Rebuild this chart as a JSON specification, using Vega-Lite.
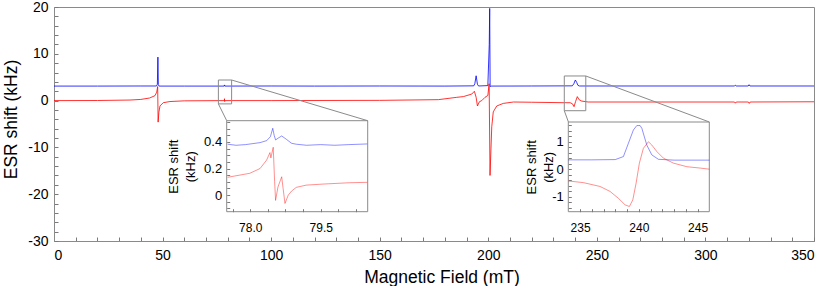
{
  "$schema": "https://vega.github.io/schema/vega-lite/v6.json",
  "width": 760,
  "height": 234,
  "autosize": {"type": "none"},
  "padding": {"left": 54, "top": 7, "right": 16, "bottom": 45},
  "config": {
    "font": "Liberation Sans",
    "view": {"stroke": "#8a8a8a", "strokeWidth": 1},
    "locale": {"number": {"decimal": ".", "thousands": ",", "grouping": [3], "currency": ["$", ""], "minus": "-"}},
    "axis": {"domainColor": "#8a8a8a", "tickColor": "#7a7a7a", "labelColor": "#000000", "titleColor": "#000000", "grid": false, "labelFont": "Liberation Sans", "titleFont": "Liberation Sans", "titleFontWeight": "normal", "labelOverlap": false, "ticks": true, "tickCount": 200}
  },
  "datasets": {
    "main": [
      {"mT": 0, "kHz": 3.1, "trace": "A"}, {"mT": 20, "kHz": 3.1, "trace": "A"}, {"mT": 40, "kHz": 3.12, "trace": "A"},
      {"mT": 47.2, "kHz": 3.12, "trace": "A"}, {"mT": 47.6, "kHz": 3.5, "trace": "A"}, {"mT": 47.85, "kHz": 9.3, "trace": "A"},
      {"mT": 48.05, "kHz": 3.4, "trace": "A"}, {"mT": 48.4, "kHz": 3.1, "trace": "A"}, {"mT": 60, "kHz": 3.1, "trace": "A"},
      {"mT": 78.4, "kHz": 3.1, "trace": "A"}, {"mT": 78.5, "kHz": 3.35, "trace": "A"}, {"mT": 78.7, "kHz": 3.1, "trace": "A"},
      {"mT": 100, "kHz": 3.12, "trace": "A"}, {"mT": 120, "kHz": 3.1, "trace": "A"}, {"mT": 150, "kHz": 3.12, "trace": "A"},
      {"mT": 180, "kHz": 3.1, "trace": "A"}, {"mT": 193.3, "kHz": 3.15, "trace": "A"}, {"mT": 193.8, "kHz": 3.6, "trace": "A"},
      {"mT": 194.4, "kHz": 5.3, "trace": "A"}, {"mT": 195.0, "kHz": 3.5, "trace": "A"}, {"mT": 195.5, "kHz": 3.12, "trace": "A"},
      {"mT": 199.8, "kHz": 3.2, "trace": "A"}, {"mT": 200.45, "kHz": 12, "trace": "A"}, {"mT": 200.65, "kHz": 19.7, "trace": "A"},
      {"mT": 200.85, "kHz": 3.0, "trace": "A"}, {"mT": 201.3, "kHz": 3.1, "trace": "A"}, {"mT": 220, "kHz": 3.12, "trace": "A"},
      {"mT": 238.7, "kHz": 3.15, "trace": "A"}, {"mT": 239.4, "kHz": 3.6, "trace": "A"}, {"mT": 240.1, "kHz": 4.4, "trace": "A"},
      {"mT": 240.7, "kHz": 3.9, "trace": "A"}, {"mT": 241.3, "kHz": 3.25, "trace": "A"}, {"mT": 242, "kHz": 3.12, "trace": "A"},
      {"mT": 280, "kHz": 3.12, "trace": "A"}, {"mT": 313.3, "kHz": 3.12, "trace": "A"}, {"mT": 313.7, "kHz": 3.3, "trace": "A"},
      {"mT": 314.1, "kHz": 3.12, "trace": "A"}, {"mT": 319.7, "kHz": 3.12, "trace": "A"}, {"mT": 320.1, "kHz": 3.4, "trace": "A"},
      {"mT": 320.5, "kHz": 3.12, "trace": "A"}, {"mT": 350, "kHz": 3.12, "trace": "A"},
      {"mT": 0, "kHz": 0, "trace": "B"}, {"mT": 20, "kHz": 0.02, "trace": "B"}, {"mT": 35, "kHz": 0.12, "trace": "B"},
      {"mT": 40, "kHz": 0.25, "trace": "B"}, {"mT": 44, "kHz": 0.55, "trace": "B"}, {"mT": 46.5, "kHz": 1.05, "trace": "B"},
      {"mT": 47.3, "kHz": 1.8, "trace": "B"}, {"mT": 47.75, "kHz": 3.0, "trace": "B"}, {"mT": 47.95, "kHz": -4.6, "trace": "B"},
      {"mT": 48.3, "kHz": -2.5, "trace": "B"}, {"mT": 48.8, "kHz": -1.15, "trace": "B"}, {"mT": 50.3, "kHz": -0.45, "trace": "B"},
      {"mT": 53.4, "kHz": -0.2, "trace": "B"}, {"mT": 60, "kHz": -0.05, "trace": "B"}, {"mT": 78.45, "kHz": 0, "trace": "B"},
      {"mT": 78.5, "kHz": 0.4, "trace": "B"}, {"mT": 78.6, "kHz": -0.2, "trace": "B"}, {"mT": 78.7, "kHz": 0, "trace": "B"},
      {"mT": 100, "kHz": 0, "trace": "B"}, {"mT": 150, "kHz": 0.05, "trace": "B"}, {"mT": 177, "kHz": 0.2, "trace": "B"},
      {"mT": 185.5, "kHz": 0.7, "trace": "B"}, {"mT": 188.5, "kHz": 0.85, "trace": "B"}, {"mT": 192.4, "kHz": 1.4, "trace": "B"},
      {"mT": 193.6, "kHz": 2.0, "trace": "B"}, {"mT": 194.4, "kHz": 0.7, "trace": "B"}, {"mT": 195.0, "kHz": -1.15, "trace": "B"},
      {"mT": 195.9, "kHz": -0.25, "trace": "B"}, {"mT": 197, "kHz": 0.0, "trace": "B"}, {"mT": 198.5, "kHz": 0.7, "trace": "B"},
      {"mT": 199.8, "kHz": 1.1, "trace": "B"}, {"mT": 200.4, "kHz": 3.6, "trace": "B"}, {"mT": 200.8, "kHz": -16.0, "trace": "B"},
      {"mT": 201.6, "kHz": -5.6, "trace": "B"}, {"mT": 202.3, "kHz": -2.4, "trace": "B"}, {"mT": 203.9, "kHz": -1.15, "trace": "B"},
      {"mT": 206.9, "kHz": -0.6, "trace": "B"}, {"mT": 211.6, "kHz": -0.3, "trace": "B"}, {"mT": 220, "kHz": -0.35, "trace": "B"},
      {"mT": 235, "kHz": -0.45, "trace": "B"}, {"mT": 237.7, "kHz": -0.45, "trace": "B"}, {"mT": 238.8, "kHz": -0.7, "trace": "B"},
      {"mT": 239.5, "kHz": -1.3, "trace": "B"}, {"mT": 240.2, "kHz": -0.2, "trace": "B"}, {"mT": 241.0, "kHz": 0.85, "trace": "B"},
      {"mT": 241.8, "kHz": 0.2, "trace": "B"}, {"mT": 243, "kHz": -0.1, "trace": "B"}, {"mT": 246, "kHz": -0.3, "trace": "B"},
      {"mT": 280, "kHz": -0.3, "trace": "B"}, {"mT": 313.4, "kHz": -0.3, "trace": "B"}, {"mT": 313.8, "kHz": -0.55, "trace": "B"},
      {"mT": 314.2, "kHz": -0.3, "trace": "B"}, {"mT": 319.8, "kHz": -0.3, "trace": "B"}, {"mT": 320.2, "kHz": -0.6, "trace": "B"},
      {"mT": 320.6, "kHz": -0.3, "trace": "B"}, {"mT": 350, "kHz": -0.25, "trace": "B"}
    ],
    "in1": [
      {"mT": 77.52, "kHz": 0.383, "trace": "A"}, {"mT": 77.7, "kHz": 0.375, "trace": "A"}, {"mT": 77.9, "kHz": 0.38, "trace": "A"},
      {"mT": 78.21, "kHz": 0.395, "trace": "A"}, {"mT": 78.35, "kHz": 0.41, "trace": "A"}, {"mT": 78.43, "kHz": 0.44, "trace": "A"},
      {"mT": 78.48, "kHz": 0.503, "trace": "A"}, {"mT": 78.51, "kHz": 0.45, "trace": "A"}, {"mT": 78.54, "kHz": 0.415, "trace": "A"},
      {"mT": 78.6, "kHz": 0.43, "trace": "A"}, {"mT": 78.67, "kHz": 0.445, "trace": "A"}, {"mT": 78.77, "kHz": 0.42, "trace": "A"},
      {"mT": 78.88, "kHz": 0.39, "trace": "A"}, {"mT": 78.98, "kHz": 0.383, "trace": "A"}, {"mT": 79.2, "kHz": 0.375, "trace": "A"},
      {"mT": 79.5, "kHz": 0.38, "trace": "A"}, {"mT": 79.8, "kHz": 0.375, "trace": "A"}, {"mT": 80.1, "kHz": 0.38, "trace": "A"},
      {"mT": 80.49, "kHz": 0.385, "trace": "A"},
      {"mT": 77.52, "kHz": 0.134, "trace": "B"}, {"mT": 77.99, "kHz": 0.164, "trace": "B"}, {"mT": 78.21, "kHz": 0.2, "trace": "B"},
      {"mT": 78.35, "kHz": 0.264, "trace": "B"}, {"mT": 78.42, "kHz": 0.32, "trace": "B"}, {"mT": 78.44, "kHz": 0.28, "trace": "B"},
      {"mT": 78.49, "kHz": 0.36, "trace": "B"}, {"mT": 78.52, "kHz": 0.1, "trace": "B"}, {"mT": 78.54, "kHz": -0.04, "trace": "B"},
      {"mT": 78.59, "kHz": 0.06, "trace": "B"}, {"mT": 78.67, "kHz": 0.138, "trace": "B"}, {"mT": 78.7, "kHz": 0.05, "trace": "B"},
      {"mT": 78.74, "kHz": -0.063, "trace": "B"}, {"mT": 78.81, "kHz": 0.0, "trace": "B"}, {"mT": 78.88, "kHz": 0.03, "trace": "B"},
      {"mT": 78.98, "kHz": 0.058, "trace": "B"}, {"mT": 79.19, "kHz": 0.075, "trace": "B"}, {"mT": 79.55, "kHz": 0.083, "trace": "B"},
      {"mT": 80.11, "kHz": 0.093, "trace": "B"}, {"mT": 80.49, "kHz": 0.096, "trace": "B"}
    ],
    "in2": [
      {"mT": 234.0, "kHz": 0.34, "trace": "A"}, {"mT": 236, "kHz": 0.34, "trace": "A"}, {"mT": 238.0, "kHz": 0.35, "trace": "A"},
      {"mT": 238.69, "kHz": 0.46, "trace": "A"}, {"mT": 239.12, "kHz": 0.95, "trace": "A"}, {"mT": 239.54, "kHz": 1.43, "trace": "A"},
      {"mT": 239.83, "kHz": 1.59, "trace": "A"}, {"mT": 240.11, "kHz": 1.59, "trace": "A"}, {"mT": 240.26, "kHz": 1.49, "trace": "A"},
      {"mT": 240.68, "kHz": 0.88, "trace": "A"}, {"mT": 241.11, "kHz": 0.52, "trace": "A"}, {"mT": 241.67, "kHz": 0.36, "trace": "A"},
      {"mT": 243, "kHz": 0.33, "trace": "A"}, {"mT": 246.0, "kHz": 0.33, "trace": "A"},
      {"mT": 234.0, "kHz": -0.43, "trace": "B"}, {"mT": 235.28, "kHz": -0.49, "trace": "B"}, {"mT": 236.7, "kHz": -0.63, "trace": "B"},
      {"mT": 237.55, "kHz": -0.81, "trace": "B"}, {"mT": 238.26, "kHz": -1.06, "trace": "B"}, {"mT": 238.83, "kHz": -1.3, "trace": "B"},
      {"mT": 239.2, "kHz": -1.36, "trace": "B"}, {"mT": 239.49, "kHz": -1.12, "trace": "B"}, {"mT": 239.77, "kHz": -0.51, "trace": "B"},
      {"mT": 240.05, "kHz": 0.22, "trace": "B"}, {"mT": 240.39, "kHz": 0.76, "trace": "B"}, {"mT": 240.82, "kHz": 1.0, "trace": "B"},
      {"mT": 241.11, "kHz": 0.88, "trace": "B"}, {"mT": 241.54, "kHz": 0.64, "trace": "B"}, {"mT": 242.1, "kHz": 0.4, "trace": "B"},
      {"mT": 242.95, "kHz": 0.22, "trace": "B"}, {"mT": 244.09, "kHz": 0.09, "trace": "B"}, {"mT": 245.23, "kHz": 0.04, "trace": "B"},
      {"mT": 246.0, "kHz": 0.0, "trace": "B"}
    ],
    "boxes": [
      {"x1": 75.7, "x2": 81.8, "y1": -0.7, "y2": 4.4},
      {"x1": 235.0, "x2": 244.9, "y1": -2.16, "y2": 5.26}
    ],
    "links": [
      {"x1": 81.8, "y1": 4.4, "x2": 144.5, "y2": -4.3},
      {"x1": 75.7, "y1": -0.7, "x2": 79.55, "y2": -4.3},
      {"x1": 244.9, "y1": 5.26, "x2": 301.8, "y2": -4.57},
      {"x1": 235.0, "y1": -2.16, "x2": 236.9, "y2": -4.57}
    ]
  },
  "layer": [
    {
      "layer": [
        {
          "data": {"name": "main"},
          "mark": {"type": "line", "strokeWidth": 0.8},
          "encoding": {
            "x": {
              "field": "mT", "type": "quantitative",
              "scale": {"domain": [0, 350], "nice": false, "zero": false},
              "axis": {
                "orient": "bottom", "labelOverlap": false, "format": "d", "tickCount": 200,
                "values": [0,10,20,30,40,50,60,70,80,90,100,110,120,130,140,150,160,170,180,190,200,210,220,230,240,250,260,270,280,290,300,310,320,330,340,350],
                "labelExpr": "datum.value % 50 == 0 ? datum.label : ''",
                "tickSize": -4,
                "labelFontSize": 14, "labelPadding": 11,
                "title": "Magnetic Field (mT)", "titleFontSize": 17.5, "titlePadding": 6, "titleX": 387.5
              }
            },
            "y": {
              "field": "kHz", "type": "quantitative",
              "scale": {"domain": [-30, 20], "nice": false, "zero": false},
              "axis": {
                "orient": "left", "labelOverlap": false, "format": "d", "tickCount": 200,
                "values": [-30,-28,-26,-24,-22,-20,-18,-16,-14,-12,-10,-8,-6,-4,-2,0,2,4,6,8,10,12,14,16,18,20],
                "labelExpr": "datum.value % 10 == 0 ? datum.label : ''",
                "tickSize": -4,
                "labelFontSize": 14, "labelPadding": 10,
                "title": "ESR shift (kHz)", "titleFontSize": 17.5, "titlePadding": 7, "titleY": 112
              }
            },
            "color": {"field": "trace", "type": "nominal", "scale": {"domain": ["A", "B"], "range": ["#0000ff", "#ff0000"]}, "legend": null}
          }
        },
        {
          "data": {"name": "boxes"},
          "mark": {"type": "rect", "filled": false, "stroke": "#8a8a8a", "strokeWidth": 1},
          "encoding": {
            "x": {"field": "x1", "type": "quantitative"},
            "x2": {"field": "x2"},
            "y": {"field": "y1", "type": "quantitative"},
            "y2": {"field": "y2"}
          }
        },
        {
          "data": {"name": "links"},
          "mark": {"type": "rule", "stroke": "#8a8a8a", "strokeWidth": 1},
          "encoding": {
            "x": {"field": "x1", "type": "quantitative"},
            "x2": {"field": "x2"},
            "y": {"field": "y1", "type": "quantitative"},
            "y2": {"field": "y2"}
          }
        }
      ]
    },
    {
      "layer": [
        {
          "data": {"values": [{}]},
          "mark": {"type": "rect", "filled": false, "stroke": "#8a8a8a", "strokeWidth": 1},
          "encoding": {
            "x": {"datum": 77.5, "type": "quantitative"},
            "x2": {"datum": 80.5},
            "y": {"datum": -0.125, "type": "quantitative"},
            "y2": {"datum": 0.56}
          }
        },
        {
          "data": {"name": "in1"},
          "mark": {"type": "line", "strokeWidth": 0.8, "opacity": 0.55},
          "encoding": {
            "x": {
              "field": "mT", "type": "quantitative",
              "scale": {"domain": [77.5, 80.5], "range": [172.7, 313.7], "nice": false, "zero": false},
              "axis": {
                "orient": "bottom", "offset": -29.3, "domain": false, "zindex": 1, "labelOverlap": false, "tickCount": 200,
                "values": [77.625, 78, 78.375, 78.75, 79.125, 79.5, 79.875, 80.25],
                "format": ".1f",
                "labelExpr": "datum.value == 78 || datum.value == 79.5 ? datum.label : ''",
                "tickSize": -3, "labelFontSize": 12, "labelPadding": 14, "title": null
              }
            },
            "y": {
              "field": "kHz", "type": "quantitative",
              "scale": {"domain": [-0.125, 0.56], "range": [204.7, 113.7], "nice": false, "zero": false},
              "axis": {
                "orient": "left", "offset": -172.7, "domain": false, "zindex": 1, "labelOverlap": false, "tickCount": 200,
                "values": [-0.1, -0.05, 0, 0.05, 0.1, 0.15, 0.2, 0.25, 0.3, 0.35, 0.4, 0.45, 0.5, 0.55],
                "format": ".2~f",
                "labelExpr": "datum.value == 0 || datum.value == 0.2 || datum.value == 0.4 ? datum.label : ''",
                "tickSize": -3, "labelFontSize": 13, "labelPadding": 8,
                "title": ["ESR shift", "(kHz)"], "titleFontSize": 13, "titleLineHeight": 17, "titlePadding": 6
              }
            },
            "color": {"field": "trace", "type": "nominal", "scale": {"domain": ["A", "B"], "range": ["#0000ff", "#ff0000"]}, "legend": null}
          }
        }
      ]
    },
    {
      "layer": [
        {
          "data": {"values": [{}]},
          "mark": {"type": "rect", "filled": false, "stroke": "#8a8a8a", "strokeWidth": 1},
          "encoding": {
            "x": {"datum": 234, "type": "quantitative"},
            "x2": {"datum": 246},
            "y": {"datum": -1.55, "type": "quantitative"},
            "y2": {"datum": 1.72}
          }
        },
        {
          "data": {"name": "in2"},
          "mark": {"type": "line", "strokeWidth": 0.8, "opacity": 0.55},
          "encoding": {
            "x": {
              "field": "mT", "type": "quantitative",
              "scale": {"domain": [234, 246], "range": [514.3, 655.3], "nice": false, "zero": false},
              "axis": {
                "orient": "bottom", "offset": -29.3, "domain": false, "zindex": 1, "labelOverlap": false, "tickCount": 200,
                "values": [235, 236, 237, 238, 239, 240, 241, 242, 243, 244, 245],
                "format": "d",
                "labelExpr": "datum.value % 5 == 0 ? datum.label : ''",
                "tickSize": -3, "labelFontSize": 12, "labelPadding": 14, "title": null
              }
            },
            "y": {
              "field": "kHz", "type": "quantitative",
              "scale": {"domain": [-1.55, 1.72], "range": [204.7, 115], "nice": false, "zero": false},
              "axis": {
                "orient": "left", "offset": -514.3, "domain": false, "zindex": 1, "labelOverlap": false, "tickCount": 200,
                "values": [-1.4, -1.2, -1, -0.8, -0.6, -0.4, -0.2, 0, 0.2, 0.4, 0.6, 0.8, 1, 1.2, 1.4, 1.6],
                "format": ".1~f",
                "labelExpr": "datum.value == -1 || datum.value == 0 || datum.value == 1 ? datum.label : ''",
                "tickSize": -3, "labelFontSize": 13, "labelPadding": 8,
                "title": ["ESR shift", "(kHz)"], "titleFontSize": 13, "titleLineHeight": 17, "titlePadding": -4
              }
            },
            "color": {"field": "trace", "type": "nominal", "scale": {"domain": ["A", "B"], "range": ["#0000ff", "#ff0000"]}, "legend": null}
          }
        }
      ]
    }
  ],
  "resolve": {"scale": {"x": "independent", "y": "independent"}}
}
